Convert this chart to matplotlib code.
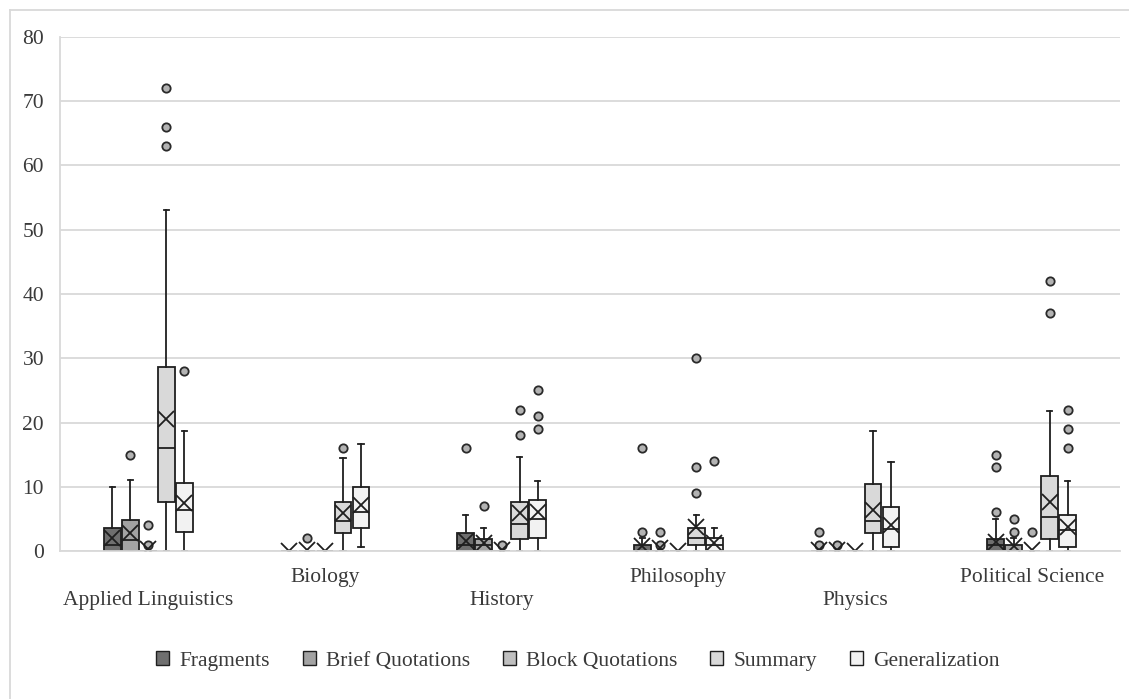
import matplotlib
matplotlib.use("Agg")
import matplotlib.pyplot as plt
from matplotlib.patches import Patch
from matplotlib.lines import Line2D

plt.rcParams['font.family'] = ['Liberation Serif', 'DejaVu Serif']

categories = ["Applied Linguistics", "Biology", "History", "Philosophy", "Physics", "Political Science"]
series_names = ["Fragments", "Brief Quotations", "Block Quotations", "Summary", "Generalization"]
series_colors = ["#6f6f6f", "#a3a3a3", "#bfbfbf", "#d9d9d9", "#f2f2f2"]
y_ticks = [0, 10, 20, 30, 40, 50, 60, 70, 80]

# Fragments
frag_q1 = [0, 0, 0, 0, 0, 0]
frag_med = [1, 0, 1, 0, 0, 1]
frag_q3 = [3.6, 0, 2.8, 1, 0, 1.8]
frag_lo = [0, 0, 0, 0, 0, 0]
frag_hi = [10, 0, 5.6, 2, 0, 5]
frag_mean = [2.0, 0, 1.5, 0.8, 0.2, 1.4]
frag_fliers = [[], [], [16], [16, 3], [3, 1], [15, 13, 6]]

# Brief Quotations
brief_q1 = [0, 0, 0, 0, 0, 0]
brief_med = [1.7, 0, 1, 0, 0, 0]
brief_q3 = [4.8, 0, 1.9, 0, 0, 1]
brief_lo = [0, 0, 0, 0, 0, 0]
brief_hi = [11, 0, 3.6, 0, 0, 2]
brief_mean = [2.8, 0.1, 1.2, 0.4, 0.2, 0.8]
brief_fliers = [[15], [2], [7], [3, 1], [1], [5, 3]]

# Block Quotations
block_q1 = [0, 0, 0, 0, 0, 0]
block_med = [0, 0, 0, 0, 0, 0]
block_q3 = [0, 0, 0, 0, 0, 0]
block_lo = [0, 0, 0, 0, 0, 0]
block_hi = [0, 0, 0, 0, 0, 0]
block_mean = [0.3, 0, 0.1, 0, 0, 0.1]
block_fliers = [[4, 1], [], [1], [], [], [3]]

# Summary
summ_q1 = [7.6, 2.8, 1.9, 1, 2.75, 1.8]
summ_med = [16, 4.6, 4.2, 2, 4.7, 5.3]
summ_q3 = [28.6, 7.6, 7.6, 3.6, 10.5, 11.7]
summ_lo = [0, 0, 0, 0, 0, 0]
summ_hi = [53, 14.5, 14.6, 5.6, 18.7, 21.8]
summ_mean = [20.5, 5.9, 5.9, 3.8, 6.4, 7.6]
summ_fliers = [[72, 66, 63], [16], [18, 22], [9, 13, 30], [], [42, 37]]

# Generalization
gen_q1 = [3, 3.6, 2, 0, 0.7, 0.7]
gen_med = [6.4, 6, 5, 1, 3.4, 3.2]
gen_q3 = [10.6, 10, 7.9, 2, 6.9, 5.6]
gen_lo = [0, 0.7, 0, 0, 0, 0]
gen_hi = [18.7, 16.6, 10.9, 3.6, 13.9, 10.9]
gen_mean = [7.5, 7.2, 6.1, 1.2, 4, 3.8]
gen_fliers = [[28], [], [25, 21, 19], [14], [], [22, 19, 16]]

series = [
    (frag_q1, frag_med, frag_q3, frag_lo, frag_hi, frag_mean, frag_fliers),
    (brief_q1, brief_med, brief_q3, brief_lo, brief_hi, brief_mean, brief_fliers),
    (block_q1, block_med, block_q3, block_lo, block_hi, block_mean, block_fliers),
    (summ_q1, summ_med, summ_q3, summ_lo, summ_hi, summ_mean, summ_fliers),
    (gen_q1, gen_med, gen_q3, gen_lo, gen_hi, gen_mean, gen_fliers),
]

W, H = 1129, 699
fig = plt.figure(figsize=(W / 100, H / 100), dpi=100)
ax = fig.add_axes([60 / W, 1 - 551 / H, 1060 / W, 514 / H])

edge = "#1f1f1f"
step = 0.102
bw = 0.095
for j, (q1, med, q3, lo, hi, mean, fl) in enumerate(series):
    stats = []
    for i in range(len(categories)):
        stats.append(dict(q1=q1[i], med=med[i], q3=q3[i], whislo=lo[i], whishi=hi[i],
                          mean=mean[i], fliers=fl[i]))
    pos = [i + (j - 2) * step for i in range(len(categories))]
    ax.bxp(stats, positions=pos, widths=bw, patch_artist=True, showmeans=True,
           manage_ticks=False, capwidths=0.03,
           boxprops=dict(facecolor=series_colors[j], edgecolor=edge, linewidth=1.3),
           medianprops=dict(color=edge, linewidth=1.3),
           whiskerprops=dict(color=edge, linewidth=1.3),
           capprops=dict(color=edge, linewidth=1.3),
           meanprops=dict(marker='x', markersize=11.5, markeredgecolor=edge,
                          markeredgewidth=1.3, linestyle='none'),
           flierprops=dict(marker='o', markersize=6, markerfacecolor='#b3b3b3',
                           markeredgecolor='#2a2a2a', markeredgewidth=1.3, linestyle='none'))

ax.set_xlim(-0.5, len(categories) - 0.5)
ax.set_ylim(0, 80)
ax.set_yticks(y_ticks)
ax.set_yticklabels([str(v) for v in y_ticks], fontsize=15.5, color="#3a3a3a")
ax.yaxis.grid(True, color="#d9d9d9", linewidth=1.3)
ax.set_axisbelow(True)
ax.tick_params(axis='y', length=0, pad=11.5)
ax.tick_params(axis='x', length=0)
ax.set_xticks(range(len(categories)))
ax.set_xticklabels(categories, fontsize=15.5, color="#3a3a3a")
for k, t in enumerate(ax.xaxis.get_major_ticks()):
    t.set_pad(12 if k % 2 == 1 else 28.5)

for s in ["top", "right"]:
    ax.spines[s].set_visible(False)
ax.spines["left"].set_color("#d9d9d9")
ax.spines["bottom"].set_color("#d9d9d9")
ax.spines["left"].set_linewidth(1.3)
ax.spines["bottom"].set_linewidth(1.3)

handles = [Patch(facecolor=c, edgecolor=edge, linewidth=1.0) for c in series_colors]
fig.legend(handles, series_names, loc='center', bbox_to_anchor=(578 / W, 1 - 661 / H),
           ncol=5, frameon=False, fontsize=15.5, handlelength=0.6, handleheight=0.6,
           handletextpad=0.5, columnspacing=1.5, labelcolor="#3a3a3a")

# chart area border
fig.add_artist(Line2D([10 / W, 10 / W], [1 - 10 / H, 0], transform=fig.transFigure,
                      color="#d9d9d9", linewidth=1.3))
fig.add_artist(Line2D([10 / W, 1], [1 - 10 / H, 1 - 10 / H], transform=fig.transFigure,
                      color="#d9d9d9", linewidth=1.3))

fig.savefig("out.png", dpi=100)
